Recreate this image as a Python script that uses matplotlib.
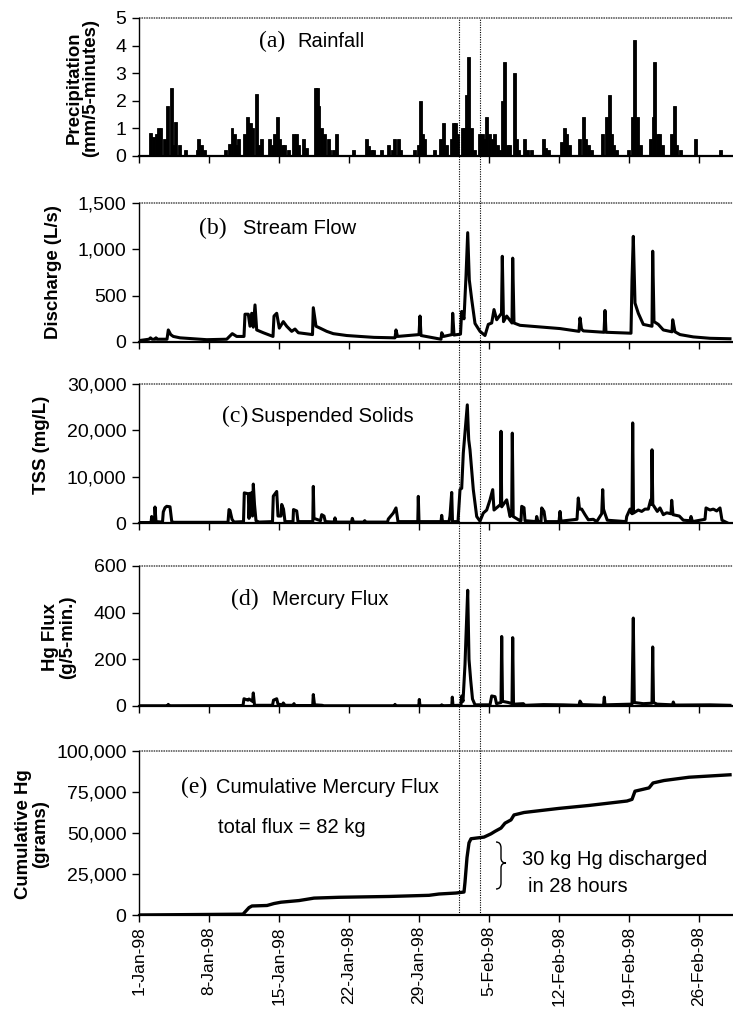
import matplotlib
matplotlib.use("Agg")
import matplotlib.pyplot as plt
from matplotlib.path import Path
from matplotlib.patches import PathPatch
from matplotlib.lines import Line2D
from matplotlib.ticker import FuncFormatter

plt.rcParams['font.family'] = ['Liberation Sans', 'DejaVu Sans']

# ---------------- data (day 0 = 1-Jan-98) ----------------
tick_days = [0, 7, 14, 21, 28, 35, 42, 49, 56]
tick_labels = ["1-Jan-98", "8-Jan-98", "15-Jan-98", "22-Jan-98", "29-Jan-98",
               "5-Feb-98", "12-Feb-98", "19-Feb-98", "26-Feb-98"]
event_days = [32.0, 34.15]

rain_day = [1.03, 1.28, 1.62, 1.77, 2.05, 2.37, 2.67, 3.10, 3.33, 3.53, 3.87, 4.53,
            5.70, 5.83, 6.10, 6.37, 8.50, 8.93, 9.17, 9.43, 9.63, 9.83,
            10.43, 10.70, 11.03, 11.27, 11.60, 11.83, 12.10, 12.93, 13.17, 13.43,
            13.70, 13.93, 14.17, 14.43, 14.77, 15.33, 15.57, 15.77, 16.27, 16.60,
            17.50, 17.67, 17.83, 18.10, 18.27, 18.43, 18.77, 18.93, 19.27, 19.60,
            21.27, 22.60, 22.83, 23.10, 23.27, 24.10, 24.83, 25.17, 25.43, 25.77,
            26.03, 27.37, 27.77, 28.00, 28.23, 28.43, 29.43, 30.03, 30.30, 30.60,
            31.10, 31.33, 31.53, 31.70, 32.20, 32.43, 32.60, 32.83, 33.10, 33.43,
            33.93, 34.17, 34.37, 34.60, 34.93, 35.17, 35.43, 35.70, 35.93, 36.17,
            36.43, 36.67, 36.93, 37.37, 37.63, 37.83, 38.37, 38.67, 39.10, 40.27,
            40.50, 40.77, 42.10, 42.37, 42.60, 42.93, 43.93, 44.27, 44.53, 44.83,
            45.10, 46.17, 46.60, 46.87, 47.10, 47.33, 47.60, 48.77, 49.17, 49.43,
            49.67, 49.97, 51.03, 51.27, 51.43, 51.67, 51.93, 52.17, 53.10, 53.37,
            53.63, 54.03, 55.53, 58.03]
rain_mm = [0.82, 0.7, 0.8, 1.0, 1.0, 0.6, 1.8, 2.45, 0.4, 1.25, 0.4, 0.2,
           0.2, 0.6, 0.4, 0.2, 0.2, 0.45, 1.0, 0.8, 0.4, 0.6,
           0.8, 1.4, 1.2, 1.0, 2.25, 0.4, 0.6, 0.6, 0.4, 0.8,
           1.4, 0.6, 0.4, 0.4, 0.2, 0.8, 0.8, 0.4, 0.6, 0.3,
           2.45, 2.45, 1.8, 1.0, 0.3, 0.8, 0.6, 0.2, 0.2, 0.8,
           0.2, 0.6, 0.35, 0.2, 0.2, 0.2, 0.4, 0.2, 0.6, 0.6,
           0.2, 0.2, 0.4, 2.0, 0.8, 0.6, 0.2, 0.6, 1.2, 0.4,
           0.6, 1.2, 1.2, 0.8, 1.0, 1.0, 2.2, 3.6, 1.0, 0.2,
           0.8, 0.8, 0.6, 1.4, 0.8, 0.6, 0.8, 0.4, 0.2, 2.0,
           3.4, 0.4, 0.4, 3.0, 0.6, 0.2, 0.6, 0.2, 0.2, 0.6,
           0.3, 0.2, 0.5, 1.0, 0.8, 0.4, 0.6, 1.4, 0.6, 0.4,
           0.2, 0.8, 1.4, 2.2, 0.8, 0.4, 0.2, 0.2, 1.4, 4.2,
           1.4, 0.4, 0.6, 1.4, 3.4, 0.8, 0.8, 0.4, 0.8, 1.8,
           0.4, 0.2, 0.6, 0.2]

flow_day = [0.0, 1.0, 1.15, 1.3, 1.6, 1.7, 1.8, 2.8, 2.93, 3.17, 3.43, 4.1, 6.1,
            6.77, 8.77, 9.33, 9.77, 10.5, 10.6, 10.93, 11.1, 11.27, 11.43, 11.6,
            11.77, 12.43, 13.4, 13.5, 13.77, 14.03, 14.43, 14.77, 15.27, 15.6,
            15.93, 17.35, 17.43, 17.7, 18.1, 18.77, 19.43, 20.77, 22.1, 23.5,
            25.6, 25.7, 25.85, 28.0, 28.1, 28.2, 30.2, 30.27, 30.45, 31.3,
            31.37, 31.5, 32.15, 32.27, 32.5, 32.7, 32.87, 33.03, 33.27, 33.6,
            34.1, 34.6, 34.93, 35.27, 35.5, 35.77, 36.25, 36.33, 36.45, 36.77,
            37.3, 37.37, 37.5, 38.1, 42.1, 44.0, 44.1, 44.25, 44.43, 46.5,
            46.6, 46.7, 49.2, 49.3, 49.43, 49.6, 49.93, 50.43, 51.3, 51.37,
            51.5, 51.93, 52.43, 53.3, 53.37, 53.6, 54.1, 55.43, 57.1, 59.1]
flow_ls = [15, 30, 45, 30, 30, 45, 30, 30, 130, 80, 60, 45, 30,
           25, 30, 90, 60, 60, 300, 300, 170, 310, 160, 400,
           130, 100, 60, 280, 310, 150, 220, 170, 115, 140,
           100, 80, 370, 170, 150, 115, 90, 70, 60, 50,
           45, 130, 60, 80, 280, 70, 30, 100, 60, 80,
           310, 75, 85, 330, 250, 710, 1180, 670, 460, 200,
           115, 70, 190, 205, 350, 240, 310, 925, 220, 280,
           205, 905, 205, 180, 145, 115, 260, 140, 120, 105,
           340, 105, 95, 670, 1140, 420, 310, 190, 170, 980,
           220, 190, 130, 110, 240, 110, 80, 55, 40, 35]

tss_day = [0.0, 1.2, 1.27, 1.35, 1.55, 1.6, 1.7, 2.35, 2.43, 2.6, 2.77, 3.1, 3.27, 3.43,
           8.9, 9.0, 9.1, 9.3, 9.5,
           10.45, 10.53, 10.93, 11.0, 11.1, 11.27, 11.35, 11.43, 11.55, 11.7, 12.0,
           13.35, 13.43, 13.77, 13.9, 14.2, 14.27, 14.45, 14.6, 15.4, 15.45, 15.77, 15.9,
           17.38, 17.43, 17.5, 18.15, 18.27, 18.5, 18.63, 19.5, 19.6, 19.7, 21.25, 21.33,
           21.45, 22.5, 22.57, 22.7, 24.85, 24.93, 25.43, 25.7, 25.9,
           27.88, 27.93, 28.0, 30.2, 30.27, 30.35, 31.0, 31.1, 31.27, 31.35, 31.9,
           32.1, 32.27, 32.43, 32.83, 32.97, 33.1, 33.43, 33.77, 34.1,
           34.43, 34.77, 35.1, 35.37, 35.5, 35.93, 36.15, 36.2, 36.27, 36.77, 37.1,
           37.27, 37.33, 37.42, 38.1, 38.2, 38.27, 38.5, 38.6,
           39.7, 39.77, 39.9, 40.2, 40.27, 40.5, 40.65, 42.0, 42.1, 42.2, 43.8, 43.93,
           44.05, 44.27, 44.6, 44.93, 45.43, 45.77, 46.27, 46.37, 46.45, 46.6, 46.83,
           48.7, 48.77, 49.1, 49.3, 49.37, 49.45, 49.93, 50.27, 50.6, 50.93, 51.17,
           51.25, 51.3, 51.38, 51.83, 52.1, 52.43, 52.77, 53.2, 53.27, 53.4, 54.03,
           54.43, 55.1, 55.2, 55.35, 56.6, 56.7, 57.1, 57.43, 57.77, 58.1, 58.3, 58.77]
tss_mgl = [100, 100, 1400, 200, 200, 3450, 300, 200, 2400, 3300, 3600, 3500, 400, 150,
           150, 2900, 2700, 800, 200,
           300, 6500, 6300, 1000, 6400, 6500, 1500, 8400, 4000, 500, 200,
           300, 5800, 6800, 1500, 1500, 4000, 3000, 300, 300, 2900, 2600, 300,
           300, 7900, 1000, 500, 1800, 1500, 300, 200, 1100, 200, 200, 1000,
           200, 200, 500, 200, 200, 860, 2150, 3250, 300,
           300, 5750, 300, 300, 1650, 300, 300, 1500, 6600, 300, 300,
           7200, 7500, 15100, 25500, 18000, 15800, 7200, 1400, 400,
           2150, 2800, 5000, 7200, 2800, 3600, 4000, 19800, 3500, 5000, 1400,
           2000, 19400, 1400, 500, 500, 3600, 3300, 500,
           300, 1400, 300, 300, 3250, 2500, 300, 300, 2500, 400, 800, 5400,
           3000, 3000, 1800, 700, 800, 300, 2000, 7200, 3000, 2000, 600,
           300, 1400, 3000, 2000, 21600, 2150, 2800, 2500, 3000, 3000, 5000,
           4000, 15800, 4000, 2500, 3250, 1800, 2200, 2000, 4900, 1800, 1500,
           600, 500, 1400, 300, 800, 3250, 2800, 3000, 2600, 3250, 600, 100]

hg_day = [0.0, 2.85, 2.93, 3.0, 10.4, 10.5, 10.9, 11.0, 11.35, 11.43, 11.55,
          13.35, 13.45, 13.77, 13.9, 14.35, 14.43, 14.6, 15.45, 15.5, 15.6,
          17.37, 17.43, 17.55, 18.3, 18.5, 25.55, 25.6, 25.7, 27.98, 28.03, 28.1,
          30.2, 30.27, 30.35, 31.28, 31.33, 31.4, 32.0, 32.2, 32.27, 32.4, 32.6,
          32.7, 32.87, 33.0, 33.17, 33.35, 33.6, 35.1, 35.27, 35.6, 35.75, 36.2,
          36.27, 36.35, 36.93, 37.3, 37.37, 37.45, 37.6, 38.43, 38.6, 40.43, 42.43,
          44.0, 44.1, 44.3, 46.45, 46.53, 46.6, 49.3, 49.43, 49.53, 50.43,
          51.3, 51.37, 51.45, 51.8, 53.35, 53.43, 53.55, 57.1, 59.1]
hg_g = [1, 1, 7, 1, 2, 31, 25, 30, 20, 56, 3,
        3, 25, 31, 8, 5, 13, 3, 3, 10, 2,
        2, 49, 5, 3, 1, 1, 7, 1, 1, 28, 1,
        1, 5, 1, 2, 38, 2, 3, 5, 43, 20, 178,
        300, 496, 200, 110, 30, 5, 5, 43, 40, 10, 15,
        298, 20, 15, 10, 293, 10, 8, 10, 3, 6, 5,
        3, 21, 6, 3, 38, 5, 8, 377, 15, 10,
        12, 253, 15, 8, 5, 17, 4, 5, 3]

cum_day = [0.0, 10.4, 11.0, 11.3, 12.8, 13.5, 14.2, 16.0, 17.0, 17.5, 20.0, 25.0,
           29.0, 30.0, 31.7, 32.5, 32.6, 32.8, 33.0, 33.2, 34.5, 35.2, 35.6, 36.2,
           36.6, 37.2, 37.5, 38.5, 42.0, 45.0, 48.8, 49.3, 49.6, 51.0, 51.4, 52.5,
           55.0, 59.1]
cum_g = [0, 500, 4500, 5500, 5800, 7000, 7800, 8800, 9800, 10300, 10800, 11300,
         12000, 12800, 13400, 14000, 20000, 35000, 44000, 46500, 47500, 49500,
         51000, 53000, 56000, 58000, 61000, 62500, 65000, 66800, 69500, 70500,
         75500, 77500, 80500, 82000, 84000, 85500]

# ---------------- layout ----------------
W, H = 733, 1014
fig = plt.figure(figsize=(W / 100, H / 100), dpi=100)


def axrect(top, bottom, left=139, right=733):
    return [left / W, 1 - bottom / H, (right - left) / W, (bottom - top) / H]


def fxy(x, y):
    return (x / W, 1 - y / H)


comma = FuncFormatter(lambda v, p: f"{int(round(v)):,}")

panels = [
    dict(top=18, bottom=156, ymax=5, step=1),
    dict(top=203, bottom=342, ymax=1500, step=500),
    dict(top=384, bottom=523, ymax=30000, step=10000),
    dict(top=566, bottom=706, ymax=600, step=200),
    dict(top=751, bottom=915, ymax=100000, step=25000),
]
axes = []
for i, p in enumerate(panels):
    ax = fig.add_axes(axrect(p['top'], p['bottom']))
    ax.set_xlim(0, 59.4)
    ax.set_ylim(0, p['ymax'])
    ax.set_yticks([k * p['step'] for k in range(int(p['ymax'] / p['step']) + 1)])
    ax.yaxis.set_major_formatter(comma)
    ax.set_xticks(tick_days)
    ax.tick_params(axis='both', direction='out', length=5, width=1, color='black')
    ax.tick_params(axis='y', labelsize=14, pad=4)
    ax.tick_params(axis='x', labelsize=12.5, pad=3)
    if i == 4:
        ax.set_xticklabels(tick_labels, rotation=90)
    else:
        ax.set_xticklabels([])
    for s in ('top', 'right'):
        ax.spines[s].set_visible(False)
    ax.spines['left'].set_linewidth(1.0)
    ax.spines['bottom'].set_linewidth(1.6)
    ax.axhline(p['ymax'], color='#4a4a4a', lw=1.1, ls=(0, (1, 0.6)), clip_on=False,
               zorder=1)
    ax.patch.set_alpha(0)
    axes.append(ax)

ax_a, ax_b, ax_c, ax_d, ax_e = axes
ax_a.bar(rain_day, rain_mm, width=0.28, align='edge', color='black',
         edgecolor='black', linewidth=0.6, zorder=3)
ax_b.plot(flow_day, flow_ls, color='black', lw=2.2, zorder=3)
ax_c.plot(tss_day, tss_mgl, color='black', lw=2.2, zorder=3)
ax_d.plot(hg_day, hg_g, color='black', lw=2.2, zorder=3)
ax_e.plot(cum_day, cum_g, color='black', lw=2.4, zorder=3)

# vertical event lines spanning all panels
y_top = ax_a.get_position().y1
y_bot = ax_e.get_position().y0
for d in event_days:
    xf = ax_a.transData.transform((d, 0))[0] / fig.bbox.width
    fig.add_artist(Line2D([xf, xf], [y_bot, y_top], transform=fig.transFigure,
                          color='black', lw=0.8, ls=(0, (1, 1.2)), zorder=5))

# y labels
lab = dict(fontsize=13.4, fontweight='bold', rotation=90, ha='center', va='center',
           multialignment='center')
fig.text(*fxy(82, 88), "Precipitation\n(mm/5-minutes)", linespacing=0.95, **lab)
fig.text(*fxy(53, 272), "Discharge (L/s)", **lab)
fig.text(*fxy(41, 445), "TSS (mg/L)", **lab)
fig.text(*fxy(59, 637), "Hg Flux\n(g/5-min.)", linespacing=0.95, **lab)
fig.text(*fxy(32, 834), "Cumulative Hg\n(grams)", linespacing=1.0, **lab)

# panel titles: serif letter + sans words, sharing a baseline
serif = ['Liberation Serif', 'DejaVu Serif']
titles = [("(a)", 259, "Rainfall", 297, 47),
          ("(b)", 199, "Stream Flow", 243, 234),
          ("(c)", 222, "Suspended Solids", 251, 422),
          ("(d)", 231, "Mercury Flux", 272, 605),
          ("(e)", 181, "Cumulative Mercury Flux", 216, 793)]
for let, xl, words, xw, y in titles:
    fig.text(*fxy(xl, y), let, family=serif, fontsize=17, ha='left', va='baseline')
    fig.text(*fxy(xw, y), words, fontsize=14.5, ha='left', va='baseline')

fig.text(*fxy(218, 833), "total flux = 82 kg", fontsize=14.5, ha='left', va='baseline')
fig.text(*fxy(522, 865), "30 kg Hg discharged", fontsize=14.5, ha='left', va='baseline')
fig.text(*fxy(528, 892), "in 28 hours", fontsize=14.5, ha='left', va='baseline')

# curly brace
pts = [(496, 842), (501, 842), (501, 848), (501, 858), (501, 863), (506, 863),
       (501, 863), (501, 868), (501, 883), (501, 889), (496, 889)]
codes = [Path.MOVETO, Path.CURVE3, Path.CURVE3, Path.LINETO, Path.CURVE3,
         Path.CURVE3, Path.CURVE3, Path.CURVE3, Path.LINETO, Path.CURVE3, Path.CURVE3]
brace = Path([fxy(x, y) for x, y in pts], codes)
fig.add_artist(PathPatch(brace, transform=fig.transFigure, fill=False,
                         edgecolor='black', lw=1.0))

fig.savefig("out.png", dpi=100)
